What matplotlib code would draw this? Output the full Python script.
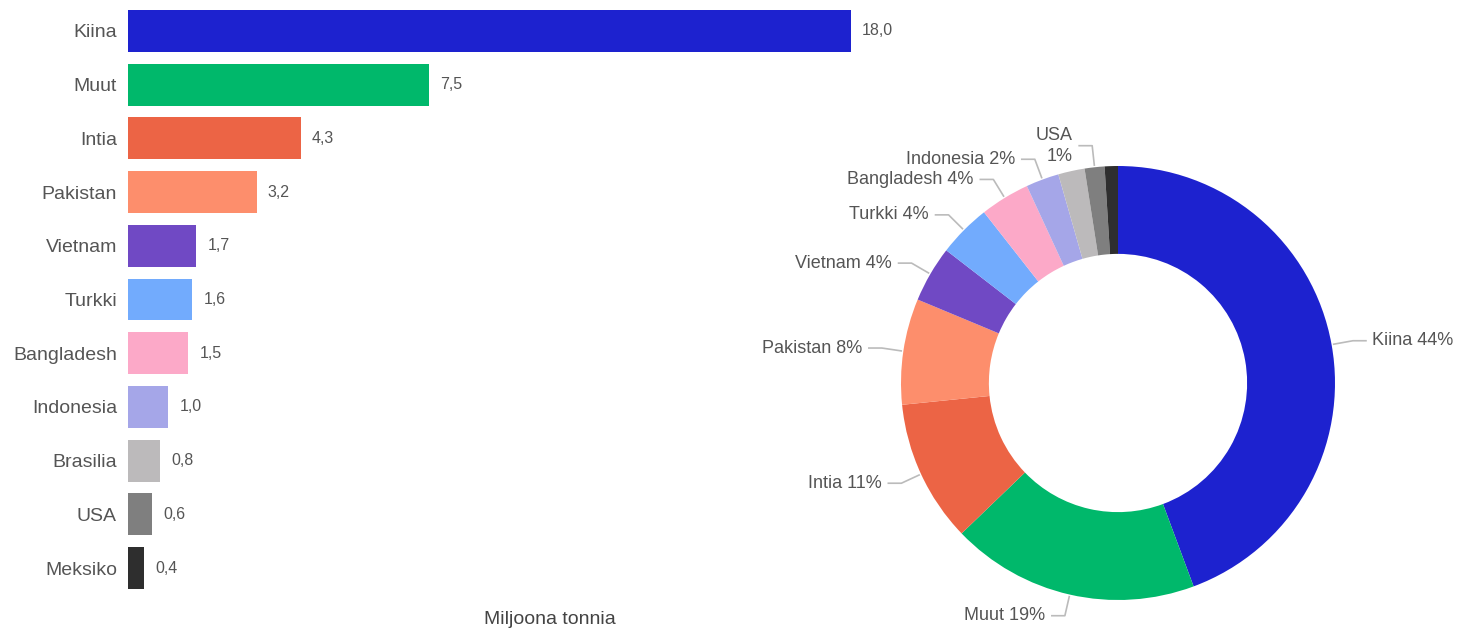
import numpy as np
import matplotlib
matplotlib.use("Agg")
import matplotlib.pyplot as plt

plt.rcParams['font.family'] = ['Liberation Sans', 'DejaVu Sans']

# data
countries = ['Kiina', 'Muut', 'Intia', 'Pakistan', 'Vietnam', 'Turkki',
             'Bangladesh', 'Indonesia', 'Brasilia', 'USA', 'Meksiko']
values = [18.0, 7.5, 4.3, 3.2, 1.7, 1.6, 1.5, 1.0, 0.8, 0.6, 0.4]
colors = ['#1d22cf', '#00b86b', '#ec6445', '#fd8e6c', '#7049c4', '#72abfd',
          '#fca9c8', '#a5a6e8', '#bcbabb', '#7f7f7f', '#2e2e2e']
# percentage labels shown on the donut (None = no label)
pct_labels = ['Kiina 44%', 'Muut 19%', 'Intia 11%', 'Pakistan 8%', 'Vietnam 4%',
              'Turkki 4%', 'Bangladesh 4%', 'Indonesia 2%', None, 'USA\n1%', None]

W, H = 1462, 632
fig = plt.figure(figsize=(W / 100, H / 100), dpi=100)

# ---- bar chart ----
ax = fig.add_axes([128 / W, 37 / H, 803.3 / W, 591 / H])
y = np.arange(len(countries))
ax.barh(y, values, height=0.78, color=colors)
ax.set_xlim(0, 20)
ax.set_ylim(len(countries) - 0.5, -0.5)
ax.set_yticks(y)
ax.set_yticklabels(countries, fontsize=14, color='#555555')
ax.tick_params(axis='y', length=0, pad=8)
ax.set_xticks([])
for s in ax.spines.values():
    s.set_visible(False)
for yi, v in zip(y, values):
    ax.annotate(f"{v:.1f}".replace('.', ','), (v, yi), xytext=(8, 0),
                textcoords='offset points', va='center', ha='left',
                fontsize=11.5, color='#555555')
fig.text(550 / W, 12 / H, 'Miljoona tonnia', ha='center', va='center',
         fontsize=14, color='#444444')

# ---- donut ----
L = 1.45
size = 2 * L * 217
cx, cy = 1118, H - 383
pax = fig.add_axes([(cx - size / 2) / W, (cy - size / 2) / H, size / W, size / H])
wedges, _ = pax.pie(values, colors=colors, startangle=90, counterclock=False,
                    wedgeprops=dict(width=0.405, edgecolor='none'))
pax.set_xlim(-L, L)
pax.set_ylim(-L, L)
pax.set_aspect('equal')
pax.axis('off')

for w, lab in zip(wedges, pct_labels):
    if lab is None:
        continue
    ang = np.deg2rad((w.theta1 + w.theta2) / 2)
    x0, y0 = np.cos(ang), np.sin(ang)
    x1, y1 = 1.1 * x0, 1.1 * y0
    side = 1 if x0 > 0 else -1
    x2 = x1 + side * 0.06
    pax.plot([x0 * 1.01, x1, x2], [y0 * 1.01, y1, y1], color='#bbbbbb', lw=1.2,
             clip_on=False)
    pax.text(x2 + side * 0.03, y1, lab, ha='left' if side > 0 else 'right',
             va='center', fontsize=13, color='#555555', linespacing=1.3)

fig.savefig('out.png', dpi=100)
